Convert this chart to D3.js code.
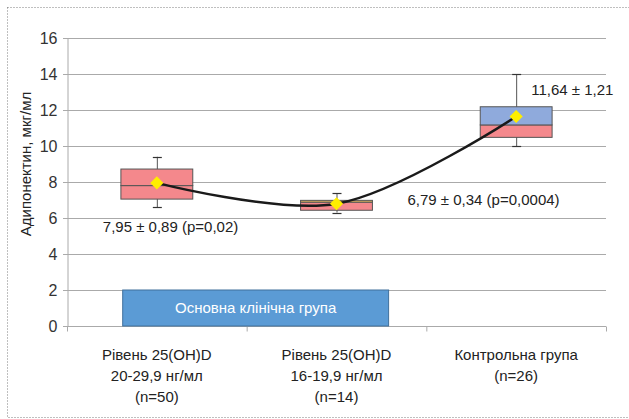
<!DOCTYPE html>
<html>
<head>
<meta charset="utf-8">
<script src="https://cdn.jsdelivr.net/npm/d3@7"></script>
<style>
  body { margin: 0; background: #fff; }
  svg { display: block; font-family: "Liberation Sans Narrow", "Arial Narrow", "Liberation Sans", sans-serif; }
</style>
</head>
<body>
<div id="chart"></div>
<script>
// Adiponectin by vitamin D group — box plots with mean line
const groups = [
  ["Рівень 25(OH)D", "20-29,9 нг/мл", "(n=50)"],
  ["Рівень 25(OH)D", "16-19,9 нг/мл", "(n=14)"],
  ["Контрольна група", "(n=26)"]
];
const whiskerLow = [6.6, 6.3, 10.0];
const q1 = [7.05, 6.43, 10.48];
const median = [7.8, 6.88, 11.17];
const q3 = [8.72, 6.98, 12.18];
const whiskerHigh = [9.4, 7.37, 13.98];
const means = [7.95, 6.79, 11.64];
const upperColors = ["#f4888c", "#e6b85a", "#8faadc"];
const meanLabels = ["7,95 ± 0,89 (p=0,02)", "6,79 ± 0,34 (p=0,0004)", "11,64 ± 1,21"];
const yTicks = [0, 2, 4, 6, 8, 10, 12, 14, 16];

const width = 629, height = 419;
const margin = {top: 38, right: 23, bottom: 93, left: 67};

const svg = d3.select("#chart").append("svg")
  .attr("width", width)
  .attr("height", height);

// dotted outer frame
svg.append("rect")
  .attr("x", 7.5).attr("y", 7.5)
  .attr("width", width + 10).attr("height", height - 9)
  .attr("fill", "none")
  .attr("stroke", "#7f7f7f")
  .attr("stroke-dasharray", "1,2");

const x = d3.scaleBand()
  .domain(d3.range(groups.length))
  .range([margin.left, width - margin.right]);

const y = d3.scaleLinear()
  .domain([0, 16])
  .range([height - margin.bottom, margin.top]);

// gridlines
svg.append("g")
  .selectAll("line")
  .data(yTicks)
  .join("line")
  .attr("x1", margin.left - 4)
  .attr("x2", width - margin.right)
  .attr("y1", d => y(d) + 0.5)
  .attr("y2", d => y(d) + 0.5)
  .attr("stroke", "#aaaaaa");

// y axis
const yAxis = svg.append("g")
  .attr("transform", `translate(${margin.left + 0.5},0)`)
  .call(d3.axisLeft(y).tickValues(yTicks).tickSize(4).tickPadding(6));
yAxis.select(".domain").attr("stroke", "#aaaaaa");
yAxis.selectAll(".tick line").attr("stroke", "#aaaaaa");
yAxis.selectAll("text")
  .attr("font-size", 16)
  .attr("fill", "#333")
  .attr("font-family", "inherit");

// x axis with ticks between categories
const xAxisG = svg.append("g")
  .attr("transform", `translate(0,${y(0) + 0.5})`);
xAxisG.selectAll("line")
  .data(d3.range(groups.length + 1))
  .join("line")
  .attr("x1", i => (i < groups.length ? x(i) : x(groups.length - 1) + x.bandwidth()) + 0.5)
  .attr("x2", i => (i < groups.length ? x(i) : x(groups.length - 1) + x.bandwidth()) + 0.5)
  .attr("y1", 0).attr("y2", 5)
  .attr("stroke", "#aaaaaa");

xAxisG.selectAll("text")
  .data(groups)
  .join("text")
  .attr("x", (d, i) => x(i) + x.bandwidth() / 2)
  .attr("y", 33)
  .attr("text-anchor", "middle")
  .attr("font-size", 15)
  .attr("fill", "#222")
  .selectAll("tspan")
  .data(d => d)
  .join("tspan")
  .attr("x", function() { return this.parentNode.getAttribute("x"); })
  .attr("dy", (d, i) => i === 0 ? 0 : 21)
  .text(d => d);

// y axis title
svg.append("text")
  .attr("transform", `translate(31,${(y(0) + y(16)) / 2 - 18}) rotate(-90)`)
  .attr("text-anchor", "middle")
  .attr("font-size", 15)
  .attr("fill", "#222")
  .text("Адипонектин, мкг/мл");

// "Основна клінічна група" bar
const mainGroup = svg.append("g");
mainGroup.append("rect")
  .attr("x", x(0) + x.bandwidth() * 0.31)
  .attr("y", y(2.0))
  .attr("width", x(1) + x.bandwidth() * 0.79 - (x(0) + x.bandwidth() * 0.31))
  .attr("height", y(0) - y(2.0))
  .attr("fill", "#5b9bd5")
  .attr("stroke", "#41719c");
mainGroup.append("text")
  .attr("x", (x(0) + x.bandwidth() * 0.31 + x(1) + x.bandwidth() * 0.79) / 2)
  .attr("y", y(1.0) + 5)
  .attr("text-anchor", "middle")
  .attr("font-size", 15)
  .attr("fill", "#fff")
  .text("Основна клінічна група");

const boxW = x.bandwidth() * 0.4;
const boxes = svg.append("g")
  .selectAll("g")
  .data(groups.map((g, i) => i))
  .join("g")
  .attr("transform", i => `translate(${x(i) + x.bandwidth() / 2},0)`);

// whiskers
boxes.append("line")
  .attr("x1", 0.5).attr("x2", 0.5)
  .attr("y1", i => y(whiskerHigh[i]))
  .attr("y2", i => y(whiskerLow[i]))
  .attr("stroke", "#555");
boxes.selectAll(".cap")
  .data(i => [whiskerHigh[i], whiskerLow[i]])
  .join("line")
  .attr("class", "cap")
  .attr("x1", -4).attr("x2", 5)
  .attr("y1", d => Math.round(y(d)) + 0.5)
  .attr("y2", d => Math.round(y(d)) + 0.5)
  .attr("stroke", "#333")
  .attr("stroke-width", 1.2);

// lower box part (q1 - median)
boxes.append("rect")
  .attr("x", -boxW / 2).attr("width", boxW)
  .attr("y", i => y(median[i]))
  .attr("height", i => y(q1[i]) - y(median[i]))
  .attr("fill", "#f4888c")
  .attr("stroke", "#555");
// upper box part (median - q3)
boxes.append("rect")
  .attr("x", -boxW / 2).attr("width", boxW)
  .attr("y", i => y(q3[i]))
  .attr("height", i => y(median[i]) - y(q3[i]))
  .attr("fill", i => upperColors[i])
  .attr("stroke", "#555");

// smoothed mean line
const line = d3.line()
  .x((d, i) => x(i) + x.bandwidth() / 2)
  .y(d => y(d))
  .curve(d3.curveCatmullRom.alpha(0.5));
svg.append("path")
  .datum(means)
  .attr("d", line)
  .attr("fill", "none")
  .attr("stroke", "#1a1a1a")
  .attr("stroke-width", 2.5);

// mean diamonds
svg.append("g")
  .selectAll("path")
  .data(means)
  .join("path")
  .attr("transform", (d, i) => `translate(${x(i) + x.bandwidth() / 2},${y(d)})`)
  .attr("d", d3.symbol(d3.symbolDiamond2, 110))
  .attr("fill", "#ffee00");

// mean labels
const labelPos = [[-54, 232], [71, 205], [15, 95]];
svg.append("g")
  .selectAll("text")
  .data(meanLabels)
  .join("text")
  .attr("x", (d, i) => x(i) + x.bandwidth() / 2 + labelPos[i][0])
  .attr("y", (d, i) => labelPos[i][1])
  .attr("font-size", 15)
  .attr("fill", "#222")
  .text(d => d);
</script>
</body>
</html>
